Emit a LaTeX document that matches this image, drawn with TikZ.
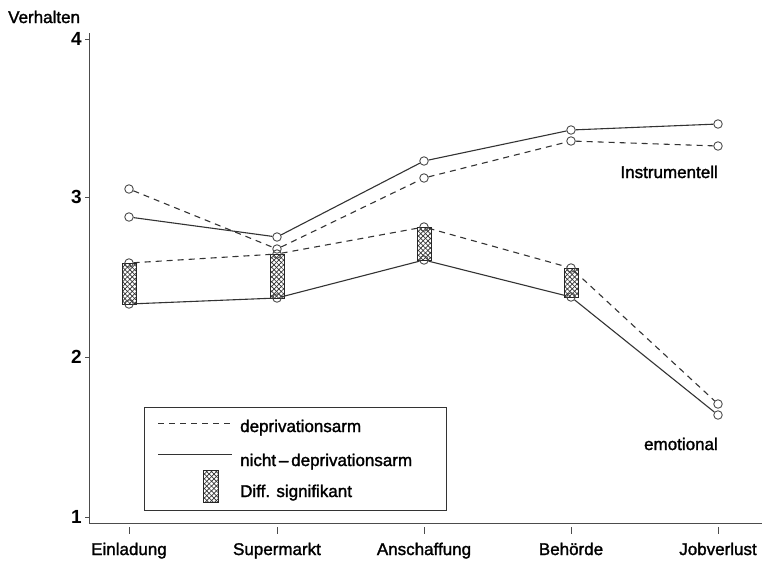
\documentclass[tikz,border=0pt]{standalone}
\usepackage{fontspec}
\setmainfont{Liberation Sans}
\newfontfamily\plotfont[FakeBold=1.6,Ligatures=TeX]{Liberation Sans}
\usetikzlibrary{patterns.meta}
\begin{document}
\begin{tikzpicture}[x=1pt,y=-1pt,
  lbl/.style={font=\plotfont\fontsize{17}{17}\selectfont, text=black, inner sep=0pt},
  num/.style={font=\bfseries\fontsize{19}{19}\selectfont, text=black, inner sep=0pt, anchor=east},
  axisln/.style={draw=black!70, line width=1pt},
  solidln/.style={draw=black!80, line width=1.1pt},
  dashln/.style={draw=black!80, line width=1.1pt, dash pattern=on 6pt off 5pt},
  mk/.style={circle, draw=black!70, line width=0.9pt, minimum size=8.5pt, inner sep=0pt},
  hatchA/.style={pattern={Lines[angle=45,distance=3.4pt,line width=0.7pt]}, pattern color=black!80},
  hatchB/.style={pattern={Lines[angle=-45,distance=3.4pt,line width=0.7pt]}, pattern color=black!80},
  sigframe/.style={draw=black!85, line width=0.8pt}
]
\useasboundingbox (0,0) rectangle (762,563);

% axes
\draw[axisln] (89,33) -- (89,523) -- (762,523);
\foreach \yy/\v in {39/4,197/3,357/2,517/1} {
  \draw[axisln, line width=0.8pt] (85,\yy) -- (89,\yy);
  \node[num] at (82,\yy) {\v};
}
\node[lbl, anchor=base west] at (8,23) {Verhalten};
\foreach \xx/\t in {129/Einladung,277/Supermarkt,424/Anschaffung,571/Beh\"orde,718/Jobverlust} {
  \draw[axisln, line width=0.8pt] (\xx,527) -- (\xx,534);
  \node[lbl, anchor=base] at (\xx,555) {\t};
}

% data markers: di/si = instrumentell (dashed/solid), de/se = emotional (dashed/solid)
\foreach \n/\xx/\a/\b/\c/\d in {1/129/189/217/263/304, 2/277/249/237/254/298, 3/424/178/161/227/260,
                                 4/571/141/130/268/297, 5/718/146/124/404/415} {
  \coordinate (di\n) at (\xx,\a);
  \coordinate (si\n) at (\xx,\b);
  \coordinate (de\n) at (\xx,\c);
  \coordinate (se\n) at (\xx,\d);
}

% significance boxes
\foreach \n in {1,2,3,4} {
  \fill[white] ([xshift=-7pt]de\n) rectangle ([xshift=7pt]se\n);
  \path[hatchA] ([xshift=-7pt]de\n) rectangle ([xshift=7pt]se\n);
  \path[hatchB] ([xshift=-7pt]de\n) rectangle ([xshift=7pt]se\n);
  \draw[sigframe] ([xshift=-7pt]de\n) rectangle ([xshift=7pt]se\n);
}

% marker circles
\foreach \n in {1,...,5} {
  \node[mk] (Di\n) at (di\n) {};
  \node[mk] (Si\n) at (si\n) {};
  \node[mk] (De\n) at (de\n) {};
  \node[mk] (Se\n) at (se\n) {};
}

% connecting lines
\draw[dashln] (Di1) -- (Di2) -- (Di3) -- (Di4) -- (Di5);
\draw[solidln] (Si1) -- (Si2) -- (Si3) -- (Si4) -- (Si5);
\draw[dashln] (De1) -- (De2) -- (De3) -- (De4) -- (De5);
\draw[solidln] (Se1) -- (Se2) -- (Se3) -- (Se4) -- (Se5);

% group labels
\node[lbl, anchor=base east] (instr) at (718,178) {Instrumentell};
\node[lbl, anchor=base east] (emo) at (718,450) {emotional};

% legend
\draw[draw=black!80, line width=0.9pt] (144,407) rectangle (446,510);
\coordinate (l1a) at (158,423); \coordinate (l1b) at (232,423);
\coordinate (l2a) at (158,454); \coordinate (l2b) at (232,454);
\draw[dashln, line width=0.9pt] (l1a) -- (l1b);
\draw[solidln, line width=0.9pt] (l2a) -- (l2b);
\fill[white] (203,470) rectangle (218,502);
\path[hatchA] (203,470) rectangle (218,502);
\path[hatchB] (203,470) rectangle (218,502);
\draw[sigframe] (203,470) rectangle (218,502);
\node[lbl, anchor=base west] (t1) at (240,432) {deprivationsarm};
\node[lbl, anchor=base west] (t2) at (240,466) {nicht\,–\,deprivationsarm};
\node[lbl, anchor=base west] (t3) at (240,497) {Diff. signifikant};
\end{tikzpicture}
\end{document}
